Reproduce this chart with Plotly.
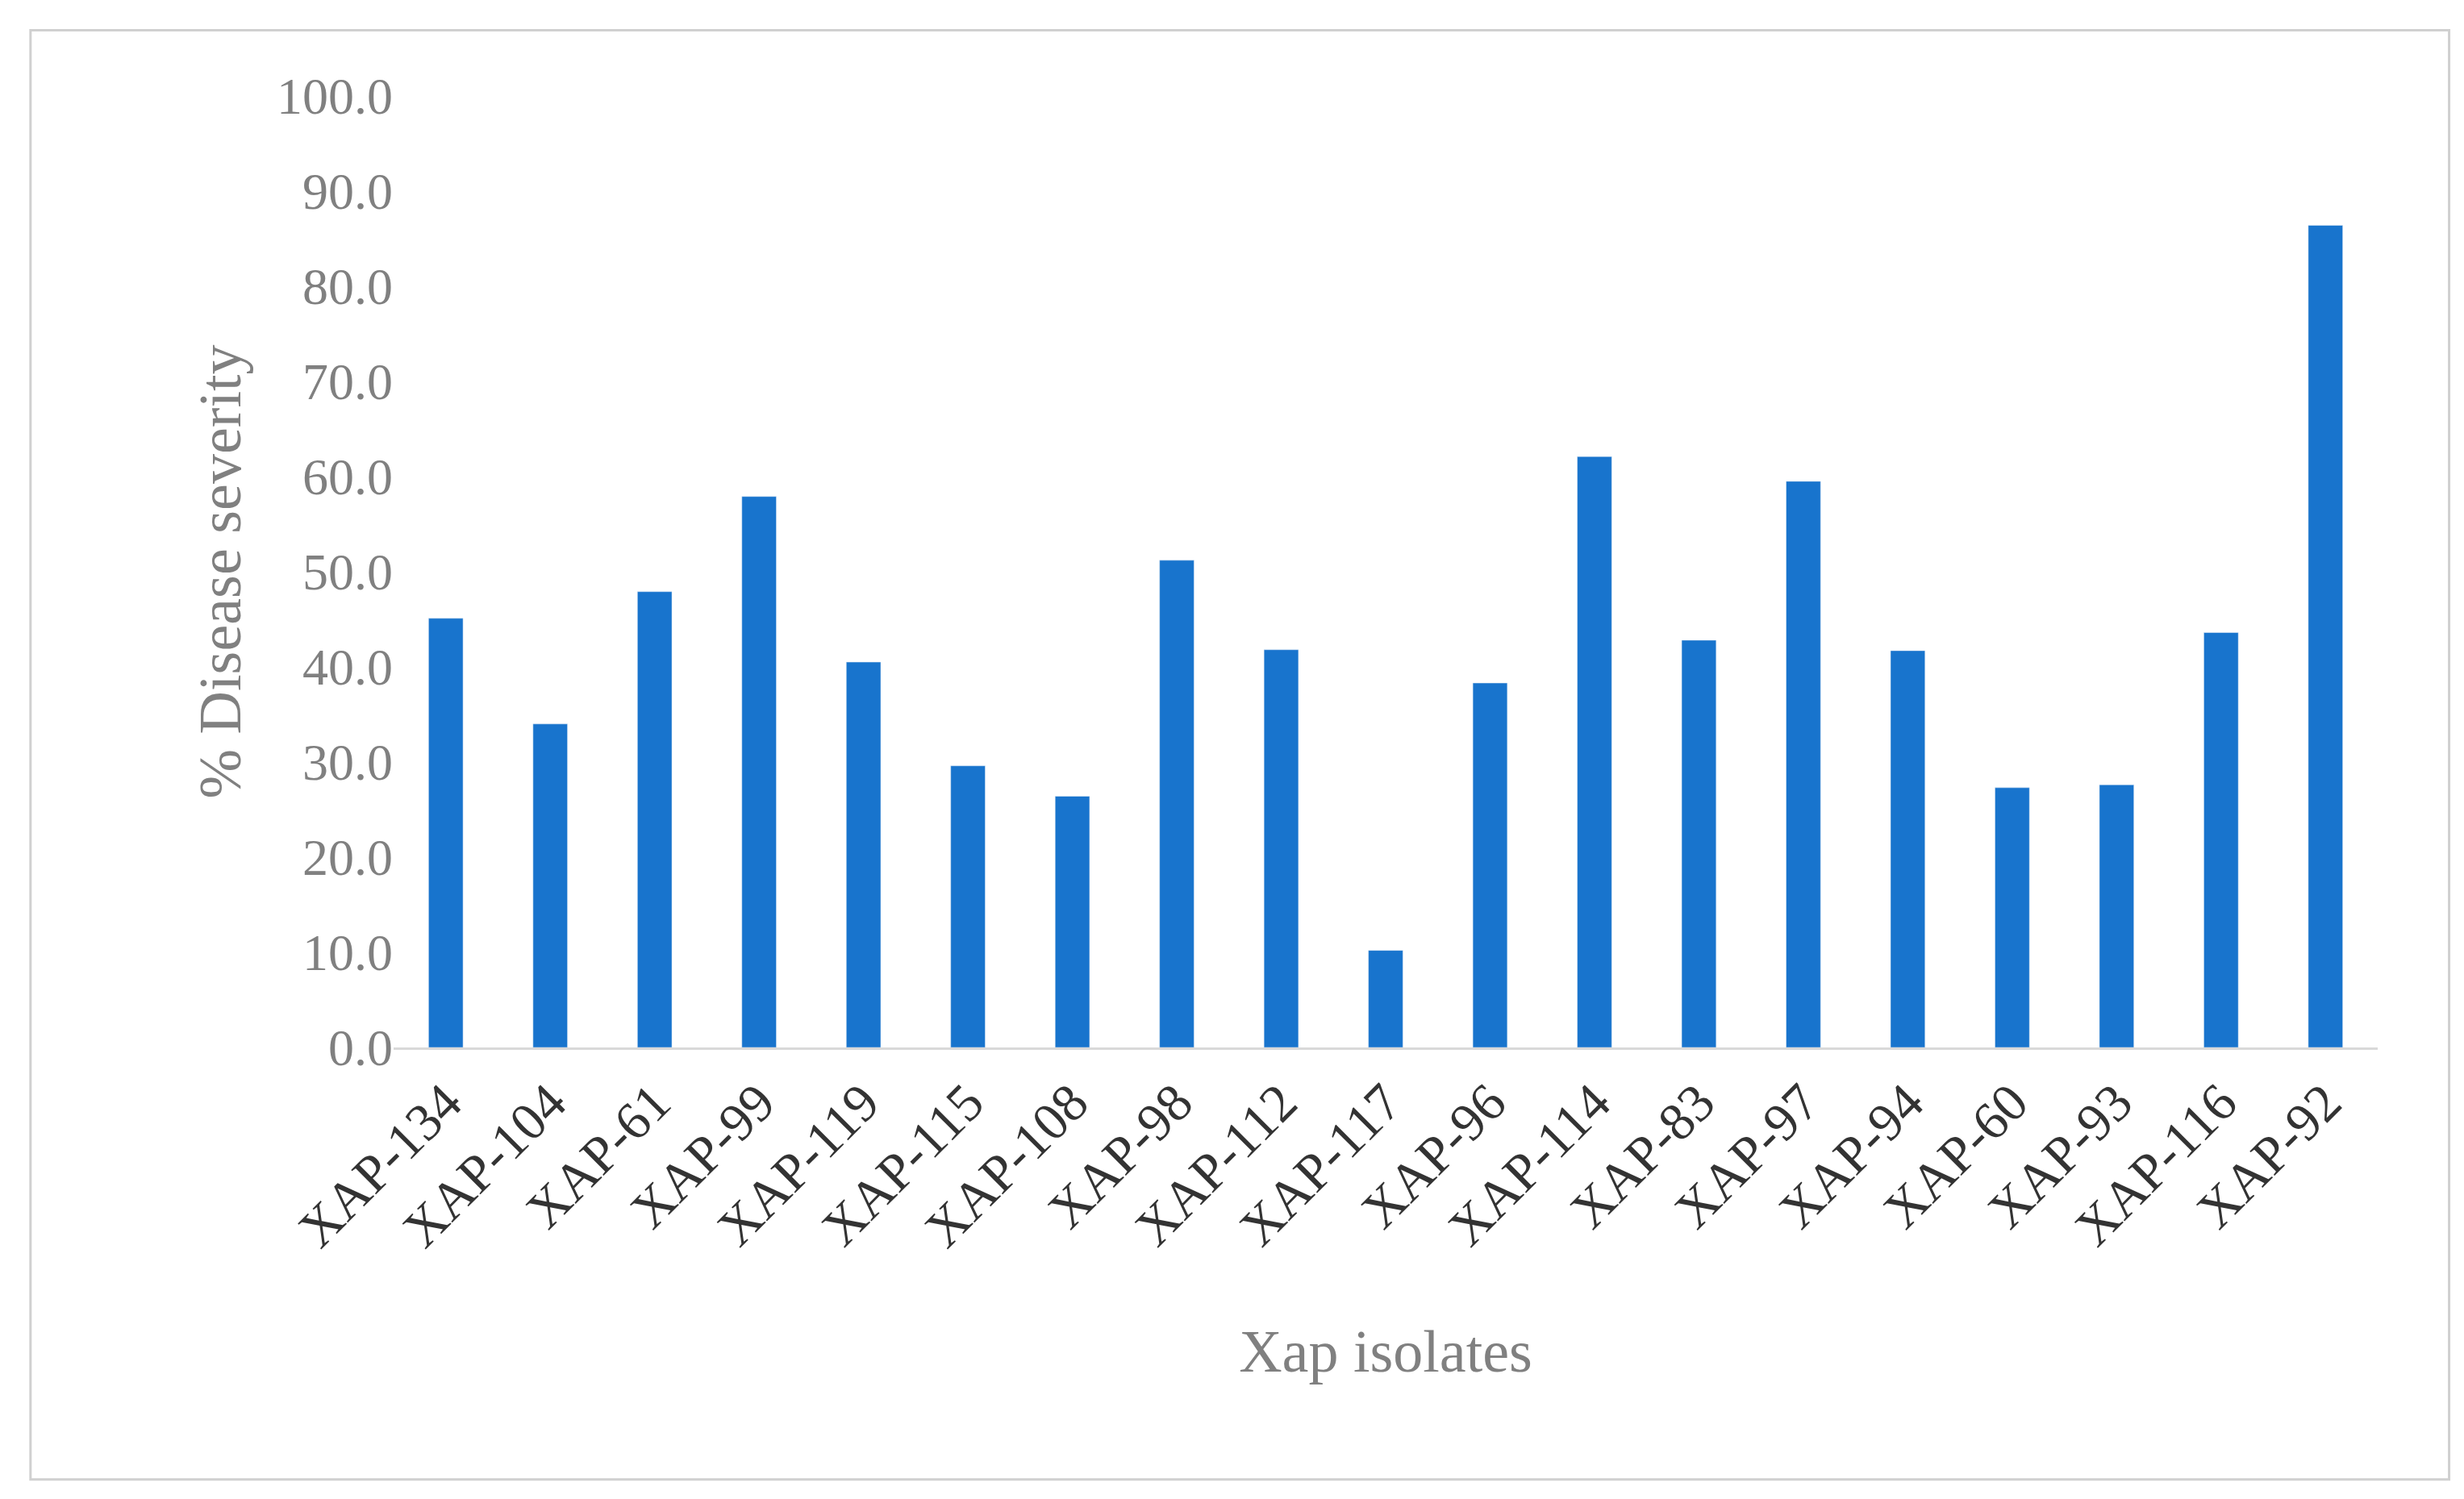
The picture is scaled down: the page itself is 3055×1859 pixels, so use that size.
import plotly.graph_objects as go

isolates = ["XAP-134","XAP-104","XAP-61","XAP-99","XAP-119","XAP-115","XAP-108","XAP-98","XAP-112","XAP-117",
            "XAP-96","XAP-114","XAP-83","XAP-97","XAP-94","XAP-60","XAP-93","XAP-116","XAP-92"]
severity = [45.1,34.0,47.9,57.9,40.5,29.6,26.4,51.2,41.8,10.2,38.3,62.1,42.8,59.5,41.7,27.3,27.6,43.6,86.4]
yticks = [0,10,20,30,40,50,60,70,80,90,100]

fig = go.Figure(go.Bar(x=isolates, y=severity, marker_color="#1874CD", width=0.33))
font = "Liberation Serif, Times New Roman, serif"
fig.update_layout(
    width=3055, height=1859, paper_bgcolor="white", plot_bgcolor="white",
    margin=dict(l=480, r=115, t=111, b=568),
    font=dict(family=font, color="#808080"),
    showlegend=False,
    shapes=[dict(type="rect", xref="paper", yref="paper", x0=-0.183, x1=1.036, y0=-0.454, y1=1.069,
                 line=dict(color="#D0D0D0", width=3))],
)
fig.update_xaxes(tickangle=-45, tickfont=dict(size=66, color="#333333"), showline=True,
                 linecolor="#D9D9D9", linewidth=3, ticks="",
                 title=dict(text="Xap isolates", font=dict(size=74, color="#808080"), standoff=90))
fig.update_yaxes(range=[0,100], tickvals=yticks, tickformat=".1f", tickfont=dict(size=64, color="#808080"),
                 showgrid=False, zeroline=False, ticks="",
                 title=dict(text="% Disease severity", font=dict(size=74, color="#808080"), standoff=20))
fig.write_html("out.html")
